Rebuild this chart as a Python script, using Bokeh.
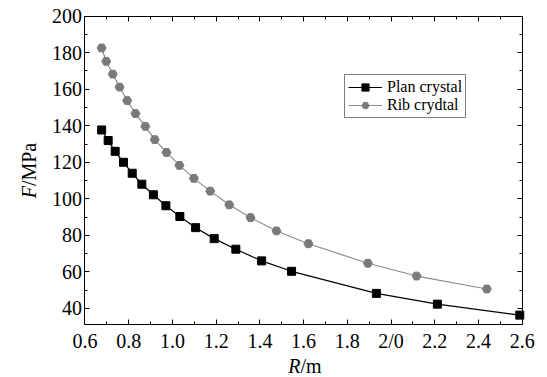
from math import pi
from bokeh.plotting import figure
from bokeh.models import (Range1d, LinearAxis, FixedTicker, Legend, LegendItem,
                          Label, CustomJSTickFormatter)
from bokeh.embed import file_html
from bokeh.resources import INLINE

# ---- data ----
plan_r = [0.676, 0.706, 0.738, 0.776, 0.816, 0.860, 0.913, 0.970, 1.034, 1.106,
          1.191, 1.290, 1.408, 1.545, 1.933, 2.212, 2.589]
plan_f = [137.7, 131.9, 126.0, 120.0, 114.0, 108.0, 102.2, 96.2, 90.3, 84.2,
          78.2, 72.4, 66.0, 60.3, 48.2, 42.3, 36.3]

rib_r = [0.676, 0.697, 0.727, 0.758, 0.793, 0.831, 0.876, 0.919, 0.973, 1.032,
         1.098, 1.173, 1.260, 1.357, 1.476, 1.622, 1.894, 2.117, 2.438]
rib_f = [182.6, 175.3, 168.3, 161.2, 153.8, 146.7, 139.7, 132.4, 125.4, 118.3,
         111.2, 104.2, 96.7, 89.7, 82.4, 75.4, 64.7, 57.7, 50.6]

x_ticks = [0.6, 0.8, 1.0, 1.2, 1.4, 1.6, 1.8, 2.0, 2.2, 2.4, 2.6]
x_minor = [0.7, 0.9, 1.1, 1.3, 1.5, 1.7, 1.9, 2.1, 2.3, 2.5]
x_tick_labels = ["0.6", "0.8", "1.0", "1.2", "1.4", "1.6", "1.8", "2/0", "2.2", "2.4", "2.6"]
y_ticks = [40, 60, 80, 100, 120, 140, 160, 180, 200]
y_minor = [50, 70, 90, 110, 130, 150, 170, 190]

X_MIN, X_MAX = 0.6, 2.6      # plotted box
Y_MIN, Y_MAX = 31, 200

FONT = "Liberation Serif"
W, H = 547, 377

# frame spans the whole canvas; the box is drawn by axes at fixed locations
p = figure(width=W, height=H, output_backend="svg", toolbar_location=None,
           title=None,
           x_range=Range1d(0.21345, 2.71574), y_range=Range1d(2.139, 208.598),
           min_border=0, min_border_left=0, min_border_right=0,
           min_border_top=0, min_border_bottom=0)
p.background_fill_color = "white"
p.border_fill_color = "white"
p.outline_line_color = None
p.grid.visible = False

PX_X = 218.6   # pixels per x unit
PX_Y = 1.826   # pixels per y unit


def tick_style(ax):
    ax.axis_line_color = "black"
    ax.axis_line_width = 1
    ax.major_tick_in = 5
    ax.major_tick_out = 0
    ax.minor_tick_in = 3
    ax.minor_tick_out = 0
    ax.major_tick_line_color = "black"
    ax.minor_tick_line_color = "black"
    ax.formatter = CustomJSTickFormatter(code="return ''")
    ax.major_label_standoff = 0


def label_style(ax):
    ax.axis_line_color = None
    ax.major_tick_line_color = None
    ax.minor_tick_line_color = None
    ax.major_tick_in = 0
    ax.major_tick_out = 0
    ax.minor_tick_in = 0
    ax.minor_tick_out = 0
    ax.major_label_standoff = 0
    ax.major_label_text_font = FONT
    ax.major_label_text_font_size = "20px"
    ax.major_label_text_color = "black"


# bottom: tick-bearing line at the box edge, labels on a second axis slightly below
xa = p.xaxis[0]
xa.ticker = FixedTicker(ticks=x_ticks, minor_ticks=x_minor)
xa.fixed_location = Y_MIN
xa.bounds = (X_MIN, X_MAX)
tick_style(xa)

xl = LinearAxis(ticker=FixedTicker(ticks=x_ticks, minor_ticks=[]),
                fixed_location=Y_MIN - 5 / PX_Y, bounds=(X_MIN, X_MAX))
xl.major_label_overrides = {t: s for t, s in zip(x_ticks, x_tick_labels)}
label_style(xl)
p.add_layout(xl, "below")

ya = p.yaxis[0]
ya.ticker = FixedTicker(ticks=y_ticks, minor_ticks=y_minor)
ya.fixed_location = X_MIN
ya.bounds = (Y_MIN, Y_MAX)
tick_style(ya)

yl = LinearAxis(ticker=FixedTicker(ticks=y_ticks, minor_ticks=[]),
                fixed_location=X_MIN - 3 / PX_X, bounds=(Y_MIN, Y_MAX))
label_style(yl)
p.add_layout(yl, "left")

top = LinearAxis(ticker=FixedTicker(ticks=x_ticks, minor_ticks=x_minor),
                 fixed_location=Y_MAX, bounds=(X_MIN, X_MAX))
tick_style(top)
p.add_layout(top, "above")
right = LinearAxis(ticker=FixedTicker(ticks=y_ticks, minor_ticks=y_minor),
                   fixed_location=X_MAX, bounds=(Y_MIN, Y_MAX))
tick_style(right)
p.add_layout(right, "right")

# series
pl = p.line(plan_r, plan_f, line_color="black", line_width=1.2)
pm = p.scatter(plan_r, plan_f, marker="square", size=8, fill_color="black",
               line_color="black")
rl = p.line(rib_r, rib_f, line_color="#8c8c8c", line_width=1.2)
rm = p.scatter(rib_r, rib_f, marker="hex", size=9, fill_color="#7a7a7a",
               line_color="#7a7a7a")

legend = Legend(items=[LegendItem(label="Plan crystal", renderers=[pl, pm]),
                       LegendItem(label="Rib crydtal", renderers=[rl, rm])],
                location=(344, 259))
legend.label_text_font = FONT
legend.label_text_font_size = "16px"
legend.label_text_color = "black"
legend.border_line_color = "black"
legend.border_line_width = 1
legend.background_fill_alpha = 1
legend.glyph_width = 34
legend.glyph_height = 18
legend.label_height = 18
legend.label_standoff = 5
legend.padding = 3
legend.spacing = 0
legend.margin = 0
p.add_layout(legend, "center")


# axis titles with italic symbols
def lab(x, y, text, style_, align, angle=0):
    return Label(x=x, y=y, text=text, text_font=FONT, text_font_size="20px",
                 text_font_style=style_, text_align=align, angle=angle,
                 text_baseline="middle", text_color="black")


p.add_layout(lab(1.5858, 8.49, "R", "italic", "right"))
p.add_layout(lab(1.5858, 8.49, "/m", "normal", "left"))
p.add_layout(lab(0.3429, 106.96, "F", "italic", "right", pi / 2))
p.add_layout(lab(0.3429, 106.96, "/MPa", "normal", "left", pi / 2))

open("out.html", "w").write(file_html(p, INLINE))
